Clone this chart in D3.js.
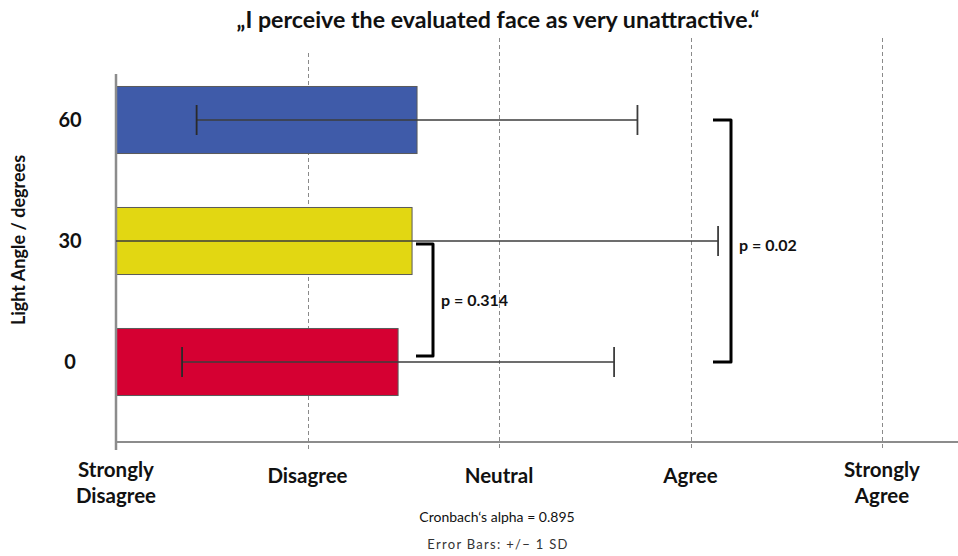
<!DOCTYPE html>
<html>
<head>
<meta charset="utf-8">
<script src="https://cdn.jsdelivr.net/npm/d3@7"></script>
<style>
  html, body { margin: 0; padding: 0; background: #fff; }
  svg { display: block; font-family: Lato, "Open Sans", sans-serif; }
</style>
</head>
<body>
<svg id="chart" width="958" height="556"></svg>
<script>
// ---- data ----
const categories = ["60", "30", "0"];
const means = [2.572, 2.546, 2.473];
const sds = [1.151, 1.598, 1.128];
const barColors = ["#3F5BA9", "#E2D712", "#D50032"];
const tickValues = [1, 2, 3, 4, 5];
const tickLabels = [["Strongly", "Disagree"], ["Disagree"], ["Neutral"], ["Agree"], ["Strongly", "Agree"]];
const comparisons = [
  { from: "30", to: "0", label: "p = 0.314" },
  { from: "60", to: "0", label: "p = 0.02" }
];
const titleText = "\u201EI perceive the evaluated face as very unattractive.\u201C";
const yTitle = "Light Angle / degrees";
const note1 = "Cronbach\u2018s alpha = 0.895";
const note2 = "Error Bars: +/\u2212 1 SD";

// ---- layout ----
const svg = d3.select("#chart");
const x = d3.scaleLinear().domain([1, 5]).range([116, 882]);
const y = d3.scaleBand().domain(categories).range([59.5, 422.5]).paddingInner(0.446).paddingOuter(0.223);
const axisY = 442;

// gridlines
svg.append("g").selectAll("line").data(tickValues.slice(1)).join("line")
  .attr("x1", d => Math.round(x(d)) + 0.5).attr("x2", d => Math.round(x(d)) + 0.5)
  .attr("y1", (d, i) => i === 0 ? 53 : 38).attr("y2", 450)
  .attr("stroke", "#8a8a8a").attr("stroke-width", 1).attr("stroke-dasharray", "4,3");

// bars
svg.append("g").selectAll("rect").data(categories).join("rect")
  .attr("x", x(1))
  .attr("y", d => y(d))
  .attr("width", (d, i) => x(means[i]) - x(1))
  .attr("height", y.bandwidth())
  .attr("fill", (d, i) => barColors[i])
  .attr("stroke", "#5a5a5a").attr("stroke-width", 1);

// axes lines
svg.append("line").attr("x1", 116).attr("x2", 958).attr("y1", axisY).attr("y2", axisY)
  .attr("stroke", "#8c8c8c").attr("stroke-width", 2);
svg.append("line").attr("x1", 116).attr("x2", 116).attr("y1", 74).attr("y2", 450)
  .attr("stroke", "#8c8c8c").attr("stroke-width", 2.5);

// error bars
const eb = svg.append("g");
categories.forEach((c, i) => {
  const cy = y(c) + y.bandwidth() / 2;
  const lo = means[i] - sds[i], hi = means[i] + sds[i];
  const loC = Math.max(lo, 1);
  eb.append("line").attr("x1", x(loC)).attr("x2", x(hi)).attr("y1", cy).attr("y2", cy)
    .attr("stroke", "#3c3c3c").attr("stroke-width", 1.6);
  if (lo >= 1) {
    eb.append("line").attr("x1", x(lo)).attr("x2", x(lo)).attr("y1", cy - 15).attr("y2", cy + 15)
      .attr("stroke", "#2a2a2a").attr("stroke-width", 1.8);
  }
  eb.append("line").attr("x1", x(hi)).attr("x2", x(hi)).attr("y1", cy - 15).attr("y2", cy + 15)
    .attr("stroke", "#3c3c3c").attr("stroke-width", 1.8);
});

// significance brackets
const bracketX = [[416, 433], [713, 731]];
comparisons.forEach((cmp, k) => {
  const y1 = y(cmp.from) + y.bandwidth() / 2 + (k === 0 ? 3 : 0);
  const y2 = y(cmp.to) + y.bandwidth() / 2 - (k === 0 ? 6 : 0);
  const [xa, xb] = bracketX[k];
  svg.append("path")
    .attr("d", `M${xa},${y1} L${xb},${y1} L${xb},${y2} L${xa},${y2}`)
    .attr("fill", "none").attr("stroke", "#000").attr("stroke-width", 3)
    .attr("stroke-linejoin", "round");
  svg.append("text").attr("x", xb + 8).attr("y", k === 0 ? (y1 + y2) / 2 + 6 : y("30") + y.bandwidth() / 2 + 10)
    .attr("font-size", 16).attr("font-weight", 700).attr("fill", "#111").text(cmp.label);
});

// y tick labels
svg.append("g").selectAll("text").data(categories).join("text")
  .attr("x", 70).attr("y", d => y(d) + y.bandwidth() / 2 + 7)
  .attr("text-anchor", "middle").attr("font-size", 20).attr("font-weight", 700).attr("fill", "#111")
  .text(d => d);

// x tick labels
const xl = svg.append("g");
tickValues.forEach((v, i) => {
  const lines = tickLabels[i];
  const t = xl.append("text").attr("x", x(v)).attr("text-anchor", "middle")
    .attr("font-size", 20.5).attr("font-weight", 700).attr("fill", "#111");
  if (lines.length === 1) {
    t.attr("y", 483).text(lines[0]);
  } else {
    lines.forEach((ln, j) => t.append("tspan").attr("x", x(v)).attr("y", 477 + j * 26).text(ln));
  }
});

// title
svg.append("text").attr("x", 498).attr("y", 28).attr("text-anchor", "middle")
  .attr("font-size", 23.2).attr("font-weight", 700).attr("fill", "#111").text(titleText);

// y axis title
svg.append("text").attr("transform", "translate(25,240) rotate(-90)").attr("text-anchor", "middle")
  .attr("font-size", 18).attr("font-weight", 700).attr("fill", "#111").text(yTitle);

// notes
svg.append("text").attr("x", 497).attr("y", 522).attr("text-anchor", "middle")
  .attr("font-size", 14).attr("fill", "#111").text(note1);
svg.append("text").attr("x", 498).attr("y", 549).attr("text-anchor", "middle")
  .attr("font-size", 13).attr("fill", "#333").attr("letter-spacing", 1.3).text(note2);
</script>
</body>
</html>
